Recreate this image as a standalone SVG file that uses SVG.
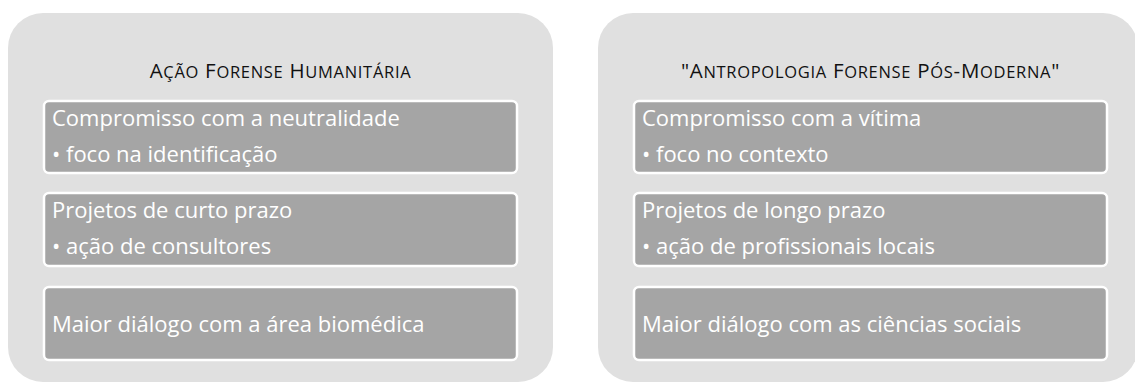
<svg xmlns="http://www.w3.org/2000/svg" width="1135" height="383" viewBox="0 0 1135 383">
  <style>
    .panel { fill: #e0e0e0; stroke: none; }
    .box { fill: #a5a5a5; stroke: #ffffff; stroke-width: 2.5; }
    .title { font-family: "Open Sans", "Liberation Sans", sans-serif; fill: #111111; font-size: 20.5px; letter-spacing: 0.7px; }
    .title .sc { font-size: 16.5px; }
    .txt { font-family: "Open Sans", "Liberation Sans", sans-serif; fill: #ffffff; font-size: 22px; }
  </style>
  <rect width="1135" height="383" fill="#ffffff"/>
  <g id="left-panel">
    <rect class="panel" x="8" y="13" width="545" height="369" rx="35" ry="35"/>
    <text class="title" x="280.5" y="78" text-anchor="middle">A<tspan class="sc">ÇÃO</tspan> F<tspan class="sc">ORENSE</tspan> H<tspan class="sc">UMANITÁRIA</tspan></text>
  </g>
  <g id="left-box-1">
    <rect class="box" x="44" y="101" width="473" height="72" rx="5" ry="5"/>
    <text class="txt" x="52" y="126">Compromisso com a neutralidade</text>
    <text class="txt" x="52" y="162">• foco na identificação</text>
  </g>
  <g id="left-box-2">
    <rect class="box" x="44" y="193" width="473" height="73" rx="5" ry="5"/>
    <text class="txt" x="52" y="218">Projetos de curto prazo</text>
    <text class="txt" x="52" y="254">• ação de consultores</text>
  </g>
  <g id="left-box-3">
    <rect class="box" x="44" y="287" width="473" height="73" rx="5" ry="5"/>
    <text class="txt" x="52" y="332">Maior diálogo com a área biomédica</text>
  </g>
  <g id="right-panel">
    <rect class="panel" x="598" y="13" width="540" height="369" rx="35" ry="35"/>
    <text class="title" x="870.5" y="78" text-anchor="middle">"A<tspan class="sc">NTROPOLOGIA</tspan> F<tspan class="sc">ORENSE</tspan> P<tspan class="sc">ÓS</tspan>-M<tspan class="sc">ODERNA</tspan>"</text>
  </g>
  <g id="right-box-1">
    <rect class="box" x="634" y="101" width="473" height="72" rx="5" ry="5"/>
    <text class="txt" x="642" y="126">Compromisso com a vítima</text>
    <text class="txt" x="642" y="162">• foco no contexto</text>
  </g>
  <g id="right-box-2">
    <rect class="box" x="634" y="193" width="473" height="73" rx="5" ry="5"/>
    <text class="txt" x="642" y="218">Projetos de longo prazo</text>
    <text class="txt" x="642" y="254">• ação de profissionais locais</text>
  </g>
  <g id="right-box-3">
    <rect class="box" x="634" y="287" width="473" height="73" rx="5" ry="5"/>
    <text class="txt" x="642" y="332">Maior diálogo com as ciências sociais</text>
  </g>
  <g id="connectors"></g>
</svg>
